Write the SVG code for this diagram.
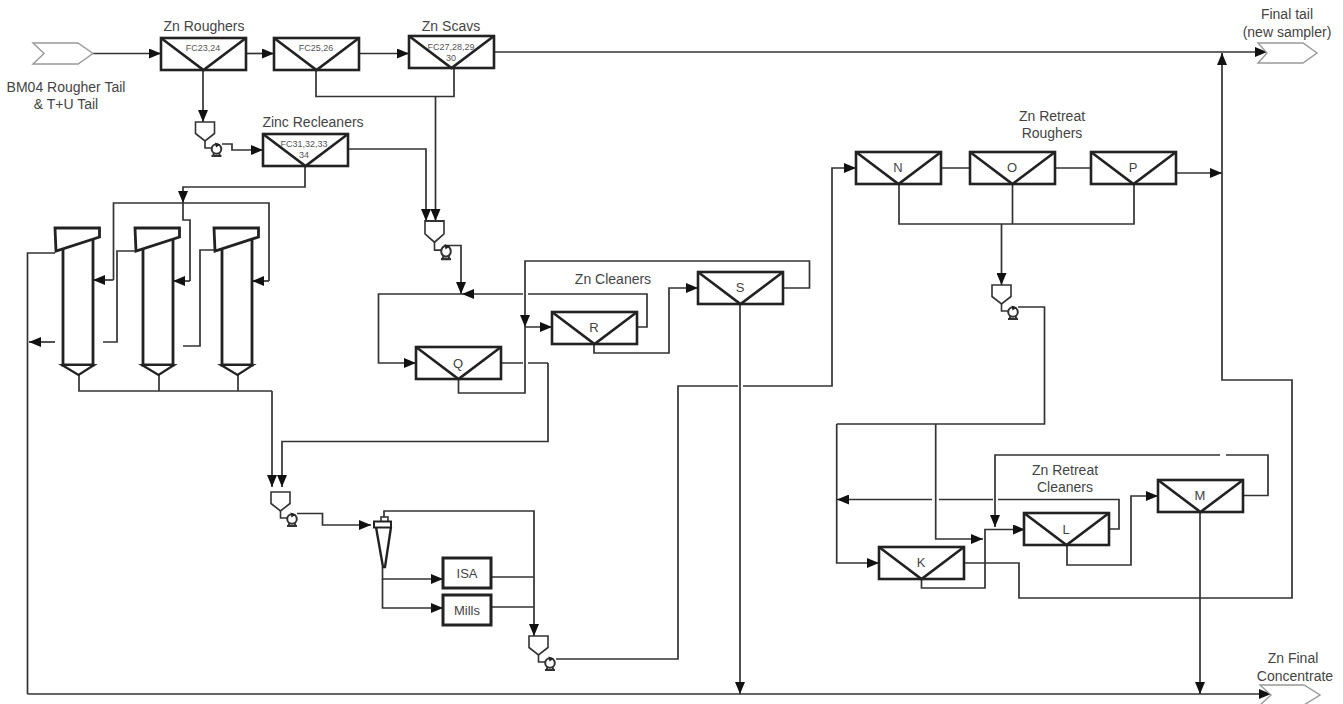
<svg xmlns="http://www.w3.org/2000/svg" xmlns:xlink="http://www.w3.org/1999/xlink" width="1343" height="704" viewBox="0 0 1343 704">
<style>
text{font-family:"Liberation Sans",Arial,sans-serif;font-size:14px;fill:#444;text-anchor:middle}
text.s{font-size:9px;fill:#555}
text.m{font-size:13px}
.c path,.c line{fill:none;stroke:#333;stroke-width:1.7}
.a{marker-end:url(#ah)}
.cell rect,.cell path{fill:#fff;stroke:#222;stroke-width:2.6}
.cell path{fill:none}
.ch{fill:#fff;stroke:#999;stroke-width:1.4}
.eq{fill:#fff;stroke:#222;stroke-width:2.8}
.thin{fill:#fff;stroke:#333;stroke-width:1.6}
</style>
<defs>
<marker id="ah" markerUnits="userSpaceOnUse" markerWidth="12" markerHeight="10" viewBox="0 0 12 10" refX="12" refY="5" orient="auto"><path d="M0 0L12 5L0 10Z" fill="#111"/></marker>
<g id="cell" class="cell"><rect width="85" height="32"/><path d="M0 0L42.500 32L85 0"/></g>
<g id="hp">
<path class="thin" d="M-9.500 0H9.500V11.500L0 19L-9.500 11.500Z"/>
<path class="thin" style="fill:none" d="M0 19V26H7"/>
<circle class="thin" style="stroke-width:2" cx="11.500" cy="27" r="4.800"/>
<path class="thin" style="fill:none;stroke-width:2" d="M6.500 34H16.500M8 34L9 31M15 34L14 31"/>
<path d="M10 20.500L15.500 22.500L11 25.500Z" fill="#222"/>
</g>
<g id="col">
<path class="eq" d="M63 246V365H93V237"/>
<path class="eq" d="M55 228H99.500V237L56 251Z"/>
<path class="eq" style="stroke-width:2.200" d="M62 365H94L78.500 375Z"/>
</g>
</defs>

<g id="connectors" class="c">
<path class="a" d="M93 53.500H161"/>
<path class="a" d="M245 53.500H274"/>
<path class="a" d="M358 53.500H409"/>
<path class="a" d="M494 52H1267"/>
<path class="a" d="M203 70V122"/>
<path d="M316 70V96.500H454V68"/>
<path class="a" d="M435.500 96.500V221"/>
<path class="a" d="M347 149H426V221"/>
<path class="a" d="M222 144H232V150H263"/>
<path class="a" d="M305 165V187H183V203"/>
<path d="M183 203V220H190V281"/>
<path class="a" d="M190 281H173"/>
<path d="M113.500 280V203H269V281"/>
<path class="a" d="M113.500 280H93"/>
<path class="a" d="M269 281H252"/>
<path d="M55 253H27.500V694"/>
<path class="a" d="M55 342H29"/>
<path d="M103 342H117V251H135"/>
<path d="M183 346H200V250H214"/>
<path d="M79 375V391H272M159 375V391M238 375V391"/>
<path class="a" d="M272 391V487"/>
<path class="a" d="M548 363V441.500H282V487"/>
<path d="M501 363H523M528 363H548"/>
<path class="a" d="M447 245.500H461V294"/>
<path class="a" d="M637 327H647V294H528M523 294H462"/>
<path class="a" d="M462 294H378.500V363H416"/>
<path class="a" d="M783 288H809.500V261H525V327"/>
<path class="a" d="M458.500 379V393H525V327H552"/>
<path class="a" d="M594 343V353H669V288H698"/>
<path class="a" d="M297 513.500H322.500V525H371"/>
<path class="a" d="M384 517V511H534V636"/>
<path class="a" d="M382.500 567V579H443"/>
<path class="a" d="M382.500 579V608H443"/>
<path d="M491 577H534M491 607H534"/>
<path class="a" d="M556 659H678V386H738M743 386H832V168H856"/>
<path class="a" d="M740 304V694"/>
<path d="M941 168H970M1055 168H1091"/>
<path class="a" d="M1176 173H1222"/>
<path d="M899 183V224H1134V183M1012.500 183V224"/>
<path class="a" d="M1001.500 224V285"/>
<path d="M1018 307H1044.500V424H836.700"/>
<path class="a" d="M836.700 424V563H879"/>
<path class="a" d="M935.700 424V539H983"/>
<path class="a" d="M1109 529H1119V499.500H998M993 499.500H939M932 499.500H837"/>
<path class="a" d="M1243 495.500H1268V455H1226M1220 455H995V527"/>
<path class="a" d="M921.500 579V588H985V529.500H1025"/>
<path class="a" d="M1067 545V565H1131V496H1158"/>
<path class="a" d="M964 563H1019V598H1292V380H1222V53"/>
<path class="a" d="M1200 511V694"/>
<path class="a" d="M27.500 694H1271"/>
</g>

<g id="feed"><path class="ch" d="M33 43H78L93 53.500L78 64H33L44 53.500Z"/><text x="66" y="92">BM04 Rougher Tail</text><text x="66" y="109">&amp; T+U Tail</text></g>
<g id="final-tail"><path class="ch" d="M1258 43H1303L1317 53L1303 63H1258L1267 53Z"/><text x="1287" y="19">Final tail</text><text x="1287" y="37">(new sampler)</text></g>
<g id="final-conc"><path class="ch" d="M1260 685H1304L1320 695L1304 705H1260L1271 695Z"/><text x="1293" y="663">Zn Final</text><text x="1295" y="681">Concentrate</text></g>

<g id="cell-fc23"><use xlink:href="#cell" x="161" y="38"/><text x="204" y="31">Zn Roughers</text><text class="s" x="203" y="51">FC23,24</text></g>
<g id="cell-fc25"><use xlink:href="#cell" x="274" y="38"/><text class="s" x="316" y="51">FC25,26</text></g>
<g id="cell-fc27"><use xlink:href="#cell" x="409" y="36"/><text x="451" y="31">Zn Scavs</text><text class="s" x="451" y="50">FC27,28,29</text><text class="s" x="451" y="61">30</text></g>
<g id="cell-fc31"><use xlink:href="#cell" x="263" y="134"/><text x="313" y="127">Zinc Recleaners</text><text class="s" x="304" y="147">FC31,32,33</text><text class="s" x="304" y="158">34</text></g>
<g id="cell-q"><use xlink:href="#cell" x="416" y="347"/><text class="m" x="458" y="368">Q</text></g>
<g id="cell-r"><use xlink:href="#cell" x="552" y="312"/><text class="m" x="594" y="332">R</text></g>
<g id="cell-s"><use xlink:href="#cell" x="698" y="272"/><text class="m" x="740" y="292">S</text></g>
<text x="613" y="284">Zn Cleaners</text>
<g id="cell-n"><use xlink:href="#cell" x="856" y="152"/><text class="m" x="898" y="172">N</text></g>
<g id="cell-o"><use xlink:href="#cell" x="970" y="152"/><text class="m" x="1012" y="172">O</text></g>
<g id="cell-p"><use xlink:href="#cell" x="1091" y="152"/><text class="m" x="1133" y="172">P</text></g>
<text x="1052" y="121">Zn Retreat</text><text x="1052" y="138">Roughers</text>
<g id="cell-k"><use xlink:href="#cell" x="879" y="547"/><text class="m" x="921" y="567">K</text></g>
<g id="cell-l"><use xlink:href="#cell" x="1024" y="513"/><text class="m" x="1066" y="534">L</text></g>
<g id="cell-m"><use xlink:href="#cell" x="1158" y="480"/><text class="m" x="1200" y="500">M</text></g>
<text x="1065" y="475">Zn Retreat</text><text x="1065" y="492">Cleaners</text>

<g id="pump-a"><use xlink:href="#hp" transform="translate(205,122)"/></g>
<g id="pump-b"><use xlink:href="#hp" transform="translate(434.500,221) scale(1,1.120)"/></g>
<g id="pump-c"><use xlink:href="#hp" transform="translate(280.500,492)"/></g>
<g id="pump-d"><use xlink:href="#hp" transform="translate(538.500,636)"/></g>
<g id="pump-e"><use xlink:href="#hp" transform="translate(1001.500,285)"/></g>

<g id="column-1"><use xlink:href="#col"/></g>
<g id="column-2"><use xlink:href="#col" x="80"/></g>
<g id="column-3"><use xlink:href="#col" x="159"/></g>

<g id="cyclone">
<rect class="thin" x="381" y="517" width="7" height="5"/>
<path class="eq" style="stroke-width:2.400" d="M376 527L383 567H385L391 527"/>
<rect class="eq" style="stroke-width:2" x="374" y="521.500" width="17" height="6"/>
</g>
<g id="isa"><rect class="eq" style="stroke-width:3" x="443" y="558" width="48" height="30"/><text class="m" x="467" y="578">ISA</text></g>
<g id="mills"><rect class="eq" style="stroke-width:3" x="443" y="595" width="48" height="30"/><text class="m" x="467" y="614.500">Mills</text></g>
</svg>
